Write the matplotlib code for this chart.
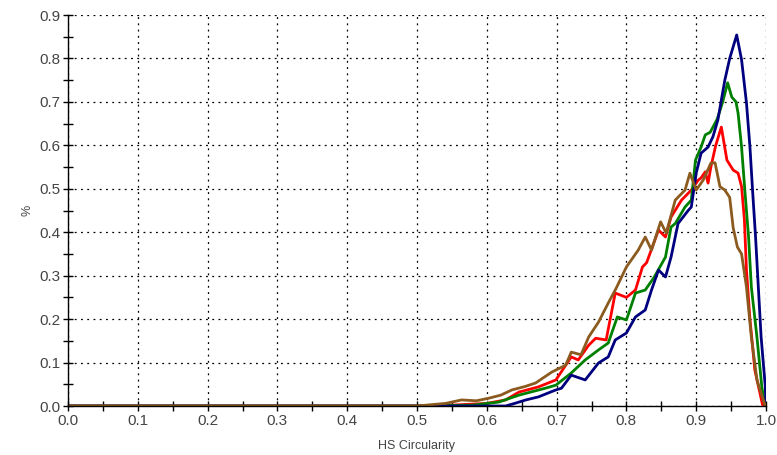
import matplotlib
matplotlib.use('Agg')
import matplotlib.pyplot as plt
from matplotlib.ticker import MultipleLocator

plt.rcParams['font.family'] = ['Liberation Sans', 'DejaVu Sans']

# readings (x = HS circularity, y = %)
brown_x = [0.0, 0.5, 0.52, 0.541, 0.564, 0.585, 0.603, 0.62, 0.636, 0.655, 0.67,
           0.693, 0.708, 0.713, 0.721, 0.735, 0.746, 0.76, 0.774, 0.785, 0.8,
           0.817, 0.827, 0.836, 0.849, 0.857, 0.87, 0.884, 0.891, 0.9, 0.91,
           0.921, 0.927, 0.934, 0.941, 0.948, 0.953, 0.959, 0.965, 0.972,
           0.979, 0.987, 0.998, 1.0]
brown_y = [0.0, 0.0, 0.003, 0.006, 0.014, 0.012, 0.018, 0.025, 0.037, 0.045, 0.053,
           0.078, 0.09, 0.094, 0.124, 0.118, 0.159, 0.193, 0.237, 0.27, 0.32,
           0.359, 0.389, 0.359, 0.424, 0.398, 0.474, 0.497, 0.536, 0.497, 0.52,
           0.559, 0.56, 0.505, 0.497, 0.48, 0.41, 0.366, 0.35, 0.274,
           0.159, 0.06, 0.005, 0.0]

red_x = [0.0, 0.5, 0.55, 0.6, 0.627, 0.646, 0.674, 0.699, 0.721, 0.731, 0.746,
         0.756, 0.771, 0.784, 0.8, 0.813, 0.823, 0.829, 0.846, 0.856, 0.864,
         0.879, 0.893, 0.903, 0.907, 0.913, 0.917, 0.921, 0.928, 0.936, 0.944,
         0.953, 0.96, 0.965, 0.969, 0.972, 0.977, 0.984, 0.995, 1.0]
red_y = [0.0, 0.0, 0.002, 0.006, 0.014, 0.032, 0.044, 0.06, 0.113, 0.106, 0.14,
         0.156, 0.152, 0.26, 0.25, 0.267, 0.32, 0.33, 0.405, 0.389, 0.435,
         0.474, 0.497, 0.52, 0.525, 0.539, 0.513, 0.55, 0.6, 0.642, 0.566,
         0.543, 0.536, 0.505, 0.43, 0.313, 0.2, 0.083, 0.003, 0.0]

green_x = [0.0, 0.5, 0.58, 0.617, 0.646, 0.684, 0.699, 0.721, 0.741, 0.76,
           0.774, 0.787, 0.8, 0.813, 0.827, 0.84, 0.856, 0.864, 0.87, 0.884,
           0.893, 0.899, 0.907, 0.913, 0.92, 0.93, 0.938, 0.945, 0.951, 0.957,
           0.96, 0.965, 0.97, 0.975, 0.979, 0.987, 0.994, 0.998, 1.0]
green_y = [0.0, 0.0, 0.002, 0.009, 0.025, 0.041, 0.048, 0.076, 0.106, 0.129,
           0.145, 0.205, 0.198, 0.26, 0.267, 0.297, 0.343, 0.412, 0.42, 0.458,
           0.474, 0.566, 0.596, 0.624, 0.63, 0.66, 0.7, 0.744, 0.711, 0.70,
           0.674, 0.596, 0.49, 0.39, 0.274, 0.159, 0.044, 0.005, 0.0]

blue_x = [0.0, 0.5, 0.6, 0.627, 0.64, 0.656, 0.674, 0.699, 0.707, 0.721, 0.741,
          0.76, 0.774, 0.784, 0.8, 0.813, 0.827, 0.836, 0.846, 0.856, 0.864,
          0.874, 0.889, 0.893, 0.9, 0.907, 0.917, 0.924, 0.931, 0.941, 0.948,
          0.958, 0.965, 0.972, 0.977, 0.981, 0.985, 0.989, 0.993, 0.999, 1.0]
blue_y = [0.0, 0.0, 0.0, 0.0, 0.006, 0.014, 0.021, 0.037, 0.041, 0.071, 0.06,
          0.099, 0.113, 0.152, 0.168, 0.205, 0.221, 0.267, 0.313, 0.297, 0.343,
          0.42, 0.451, 0.458, 0.536, 0.582, 0.596, 0.62, 0.658, 0.75, 0.80,
          0.854, 0.797, 0.698, 0.596, 0.49, 0.39, 0.274, 0.159, 0.044, 0.0]

series = [
    (red_x, red_y, '#ff0000'),
    (green_x, green_y, '#008000'),
    (blue_x, blue_y, '#00007f'),
    (brown_x, brown_y, '#8b5a1e'),
]

fig = plt.figure(figsize=(7.77, 4.55), dpi=100)
ax = fig.add_axes([68 / 777, 49 / 455, 698 / 777, 391 / 455])

for xs, ys, c in series:
    ax.plot(xs, ys, color=c, lw=2.0, solid_joinstyle='round')

ax.set_xlim(0, 1.0)
ax.set_ylim(0, 0.9)
ax.xaxis.set_major_locator(MultipleLocator(0.1))
ax.xaxis.set_minor_locator(MultipleLocator(0.05))
ax.yaxis.set_major_locator(MultipleLocator(0.1))
ax.yaxis.set_minor_locator(MultipleLocator(0.05))
ax.xaxis.set_major_formatter(plt.FuncFormatter(lambda v, p: f'{v:.1f}'))
ax.yaxis.set_major_formatter(plt.FuncFormatter(lambda v, p: f'{v:.1f}'))

ax.grid(True, which='major', color='black', linestyle=(0, (1.5, 3.5)), lw=0.9)
ax.set_axisbelow(True)
for s in ['top', 'right']:
    ax.spines[s].set_visible(False)
for s in ['left', 'bottom']:
    ax.spines[s].set_linewidth(1.0)

ax.tick_params(which='both', direction='inout', length=7, width=1.0,
               labelsize=11, labelcolor='#444444', pad=2)

ax.set_xlabel('HS Circularity', fontsize=9, color='#444444', labelpad=9)
ax.set_ylabel('%', fontsize=9, color='#444444')
ax.yaxis.set_label_coords(-0.05, 0.5)

plt.savefig('out.png', dpi=100)
